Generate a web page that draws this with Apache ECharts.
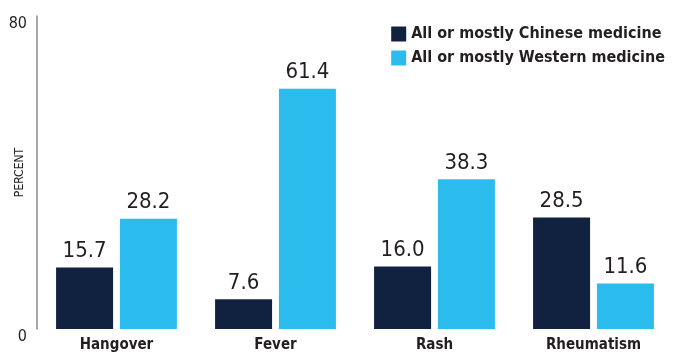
<!DOCTYPE html>
<html>
<head>
<meta charset="utf-8">
<script src="https://cdn.jsdelivr.net/npm/echarts@6/dist/echarts.min.js"></script>
<style>
  html, body { margin: 0; padding: 0; background: #fff; }
  #chart { width: 673px; height: 356px; }
</style>
</head>
<body>
<div id="chart"></div>
<script>
const categories = ['Hangover', 'Fever', 'Rash', 'Rheumatism']
const chineseValues = [15.7, 7.6, 16.0, 28.5]
const westernValues = [28.2, 61.4, 38.3, 11.6]
const seriesNames = ['All or mostly Chinese medicine', 'All or mostly Western medicine']
const yTicks = [0, 80]

const FONT = '"Liberation Sans Narrow", "DejaVu Sans Condensed", sans-serif'
const TEXT = '#231f20'

const chart = echarts.init(document.getElementById('chart'))

const valueLabel = {
  show: true,
  position: 'top',
  distance: 5,
  fontFamily: FONT,
  fontSize: 22,
  color: TEXT,
  formatter: p => p.value.toFixed(1)
}

chart.setOption({
  animation: false,
  textStyle: { fontFamily: FONT },
  grid: { left: 37, right: 0, top: 16, bottom: 27, containLabel: false, outerBoundsMode: 'none' },
  legend: {
    orient: 'vertical',
    right: 3,
    top: 21,
    icon: 'rect',
    itemWidth: 15,
    itemHeight: 15,
    itemGap: 8,
    textStyle: { fontFamily: FONT, fontSize: 16, fontWeight: 'bold', color: TEXT },
    data: seriesNames
  },
  xAxis: {
    type: 'category',
    data: categories,
    axisLine: { show: false },
    axisTick: { show: false },
    axisLabel: {
      margin: 9,
      fontFamily: FONT,
      fontSize: 15,
      fontWeight: 'bold',
      color: TEXT
    }
  },
  yAxis: {
    type: 'value',
    min: yTicks[0],
    max: yTicks[1],
    interval: 80,
    name: 'PERCENT',
    nameLocation: 'middle',
    nameGap: 11,
    nameMoveOverlap: false,
    nameTextStyle: { fontFamily: FONT, fontSize: 12, color: TEXT },
    axisLine: { show: true, lineStyle: { color: '#8a8a8e', width: 1.5 } },
    axisTick: { show: false },
    splitLine: { show: false },
    axisLabel: {
      margin: 10,
      verticalAlign: 'top',
      fontFamily: FONT,
      fontSize: 16,
      color: TEXT
    }
  },
  series: [
    {
      name: seriesNames[0],
      type: 'bar',
      data: chineseValues,
      itemStyle: { color: '#10223f' },
      barGap: '12%',
      barCategoryGap: '24%',
      label: valueLabel
    },
    {
      name: seriesNames[1],
      type: 'bar',
      data: westernValues,
      itemStyle: { color: '#2bbced' },
      label: valueLabel
    }
  ]
})
</script>
</body>
</html>
